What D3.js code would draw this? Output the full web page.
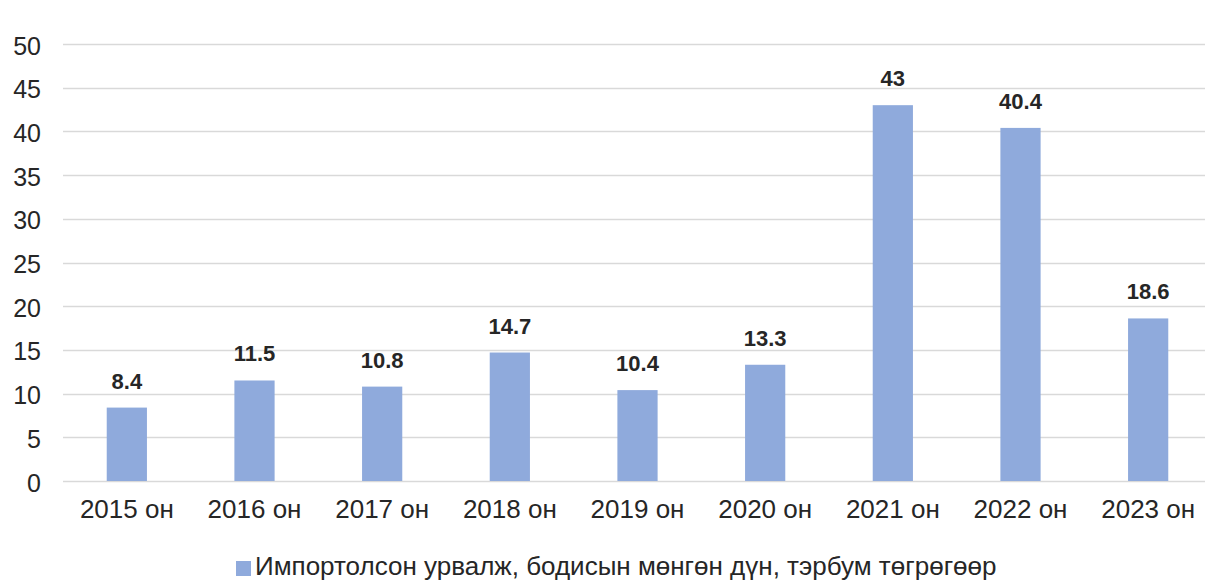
<!DOCTYPE html>
<html>
<head>
<meta charset="utf-8">
<script src="https://cdn.jsdelivr.net/npm/d3@7"></script>
<style>
  body { margin: 0; background: #fff; }
  svg { font-family: "Liberation Sans", Arial, sans-serif; }
</style>
</head>
<body>
<div id="chart"></div>
<script>
const years = ["2015 он", "2016 он", "2017 он", "2018 он", "2019 он", "2020 он", "2021 он", "2022 он", "2023 он"];
const values = [8.4, 11.5, 10.8, 14.7, 10.4, 13.3, 43, 40.4, 18.6];
const yTicks = [0, 5, 10, 15, 20, 25, 30, 35, 40, 45, 50];
const seriesName = "Импортолсон урвалж, бодисын мөнгөн дүн, тэрбум төгрөгөөр";

const width = 1205, height = 581;
const plot = { left: 63, right: 1212, top: 44, bottom: 481 };

const svg = d3.select("#chart").append("svg")
  .attr("width", width)
  .attr("height", height);

const x = d3.scaleBand()
  .domain(years)
  .range([plot.left, plot.right])
  .paddingInner(0.685)
  .paddingOuter(0.3425);

const y = d3.scaleLinear()
  .domain([0, 50])
  .range([plot.bottom, plot.top]);

// gridlines
svg.append("g")
  .selectAll("line")
  .data(yTicks)
  .enter()
  .append("line")
  .attr("x1", plot.left)
  .attr("x2", width)
  .attr("y1", (d) => Math.round(y(d)) + 0.5)
  .attr("y2", (d) => Math.round(y(d)) + 0.5)
  .attr("stroke", "#d9d9d9")
  .attr("stroke-width", 1.3);

// y axis labels
const yAxis = svg.append("g")
  .attr("transform", `translate(41, 0)`)
  .call(d3.axisLeft(y).tickValues(yTicks).tickSize(0).tickPadding(0))
  .call((g) => g.select(".domain").remove());
yAxis.selectAll("text")
  .style("font-size", "25px")
  .style("fill", "#262626")
  .attr("dy", "0.4em");

// x axis labels
const xAxis = svg.append("g")
  .attr("transform", `translate(0, ${plot.bottom})`)
  .call(d3.axisBottom(x).tickSize(0).tickPadding(0))
  .call((g) => g.select(".domain").remove());
xAxis.selectAll("text")
  .attr("dy", null)
  .attr("y", 37)
  .style("font-size", "26px")
  .style("fill", "#262626");

// bars
svg.selectAll(".bar")
  .data(values)
  .enter()
  .append("rect")
  .attr("class", "bar")
  .attr("x", (d, i) => x(years[i]))
  .attr("y", (d) => y(d))
  .attr("width", x.bandwidth())
  .attr("height", (d) => plot.bottom - y(d))
  .attr("fill", "#8faadc");

// value labels
svg.selectAll(".val")
  .data(values)
  .enter()
  .append("text")
  .attr("class", "val")
  .text((d) => d)
  .attr("x", (d, i) => x(years[i]) + x.bandwidth() / 2)
  .attr("y", (d) => y(d) - 19)
  .style("text-anchor", "middle")
  .style("font-size", "22px")
  .style("font-weight", "bold")
  .style("fill", "#262626");

// legend
const legend = svg.append("g").attr("transform", "translate(236, 575)");
legend.append("rect")
  .attr("x", 0)
  .attr("y", -14)
  .attr("width", 15)
  .attr("height", 15)
  .attr("fill", "#8faadc");
legend.append("text")
  .attr("x", 19)
  .attr("y", 0)
  .text(seriesName)
  .style("font-size", "26px")
  .style("fill", "#262626");
</script>
</body>
</html>
